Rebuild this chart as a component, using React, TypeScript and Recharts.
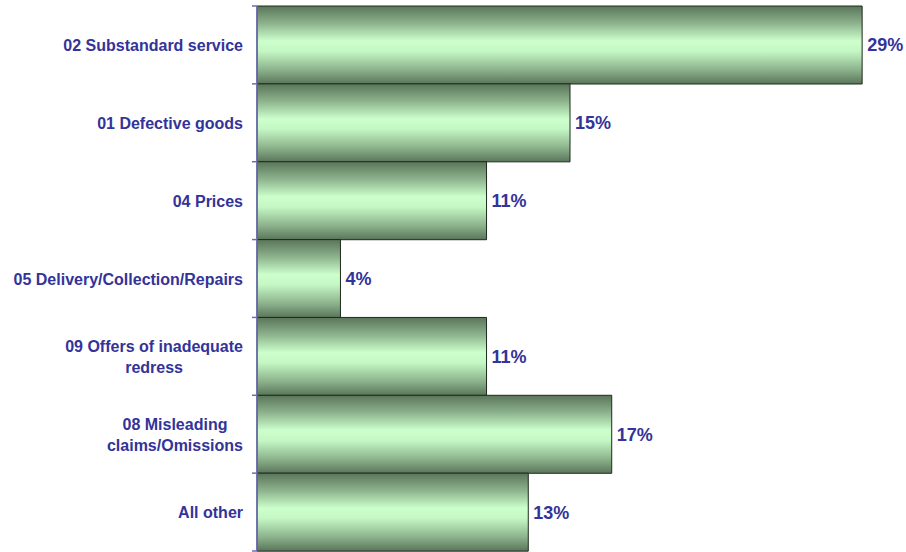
import React from 'react';
import { BarChart, Bar, XAxis, YAxis, LabelList } from 'recharts';

const categories = [
  '02 Substandard service',
  '01 Defective goods',
  '04 Prices',
  '05 Delivery/Collection/Repairs',
  '09 Offers of inadequate\nredress',
  '08 Misleading\nclaims/Omissions',
  'All other',
];
const shares = [29, 15, 11, 4, 11, 17, 13];

const data = categories.map((name, i) => ({ name, value: shares[i] }));

const FONT = '"Liberation Sans", Arial, sans-serif';
const TEXT = '#333399';
const AXIS = '#6b6bb8';

let ctx: CanvasRenderingContext2D | null = null;
function measure(s: string) {
  if (!ctx) ctx = document.createElement('canvas').getContext('2d');
  if (!ctx) return s.length * 9;
  ctx.font = `bold 16px ${FONT}`;
  return ctx.measureText(s).width;
}

function CategoryTick(props: any) {
  const { x, y, payload, index, visibleTicksCount } = props;
  const half = payload.offset ?? 0;
  const lines = String(payload.value).split('\n');
  const widest = Math.max(...lines.map(measure));
  const right = x - 14;
  const cx = right - widest / 2;
  const lh = 21;
  const y0 = y - ((lines.length - 1) * lh) / 2;
  return (
    <g>
      <line x1={x - 5} x2={x} y1={y - half} y2={y - half} stroke={AXIS} strokeWidth={1.5} />
      {index === visibleTicksCount - 1 && (
        <line x1={x - 5} x2={x} y1={y + half} y2={y + half} stroke={AXIS} strokeWidth={1.5} />
      )}
      <text
        x={cx}
        y={y0}
        textAnchor="middle"
        dominantBaseline="central"
        fill={TEXT}
        fontSize={16}
        fontWeight="bold"
        fontFamily={FONT}
      >
        {lines.map((l, i) => (
          <tspan key={i} x={cx} dy={i === 0 ? 0 : lh}>
            {l}
          </tspan>
        ))}
      </text>
    </g>
  );
}

export default function App() {
  return (
    <div style={{ width: 906, height: 552 }}>
      <style>{'body{margin:0}'}</style>
      <BarChart
        width={906}
        height={552}
        data={data}
        layout="vertical"
        margin={{ top: 6, right: 23, bottom: 1, left: 0 }}
        barCategoryGap={0}
      >
        <defs>
          <linearGradient id="barFill" x1="0" y1="0" x2="0" y2="1">
            <stop offset="0%" stopColor="#5a755a" />
            <stop offset="22%" stopColor="#8cb28c" />
            <stop offset="45%" stopColor="#ccffcc" />
            <stop offset="58%" stopColor="#c4f7c4" />
            <stop offset="82%" stopColor="#8cb28c" />
            <stop offset="100%" stopColor="#5a755a" />
          </linearGradient>
        </defs>
        <XAxis type="number" domain={[0, 30]} hide />
        <YAxis
          type="category"
          dataKey="name"
          width={257}
          axisLine={{ stroke: AXIS, strokeWidth: 1.5 }}
          tickLine={false}
          tickSize={0}
          tickMargin={0}
          tick={<CategoryTick />}
          interval={0}
        />
        <Bar
          dataKey="value"
          fill="url(#barFill)"
          stroke="#1f2a1f"
          strokeWidth={1}
          isAnimationActive={false}
        >
          <LabelList
            dataKey="value"
            position="right"
            offset={5}
            formatter={(v: any) => `${v}%`}
            fill={TEXT}
            fontSize={18}
            fontWeight="bold"
            fontFamily={FONT}
          />
        </Bar>
      </BarChart>
    </div>
  );
}
